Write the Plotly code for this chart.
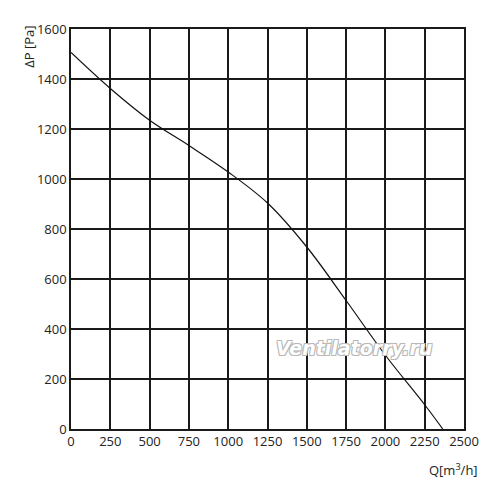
import plotly.graph_objects as go

# Airflow Q [m3/h] and pressure dP [Pa]
flow_q = [0, 250, 500, 750, 1000, 1250, 1500, 1750, 2000, 2250, 2365]
pressure_dp = [1506, 1362, 1235, 1134, 1028, 904, 728, 514, 295, 97, 0]

x_ticks = [0, 250, 500, 750, 1000, 1250, 1500, 1750, 2000, 2250, 2500]
y_ticks = [0, 200, 400, 600, 800, 1000, 1200, 1400, 1600]

fig = go.Figure()
fig.add_trace(go.Scatter(
    x=flow_q, y=pressure_dp, mode="lines",
    line=dict(color="#111111", width=1.2, shape="spline", smoothing=1.0),
    hoverinfo="skip", showlegend=False,
))

axis_font = dict(family="Open Sans, DejaVu Sans, sans-serif", size=13, color="#222222")

fig.update_layout(
    width=500, height=492,
    margin=dict(l=63, r=44, t=14, b=71),
    paper_bgcolor="white", plot_bgcolor="white",
    xaxis=dict(
        range=[0, 2500], tickvals=x_ticks, ticktext=[str(v) for v in x_ticks],
        showgrid=True, gridcolor="#1a1a1a", gridwidth=1.5,
        showline=True, linecolor="#1a1a1a", linewidth=1.5, mirror=True,
        zeroline=False, ticks="", tickfont=axis_font, fixedrange=True,
    ),
    yaxis=dict(
        range=[0, 1600], tickvals=y_ticks, ticktext=[str(v) for v in y_ticks],
        showgrid=True, gridcolor="#1a1a1a", gridwidth=1.5,
        showline=True, linecolor="#1a1a1a", linewidth=1.5, mirror=True,
        zeroline=False, ticks="", tickfont=axis_font, fixedrange=True,
    ),
    annotations=[
        dict(text="ΔP [Pa]", xref="paper", yref="paper", x=-0.109, y=0.956,
             textangle=-90, showarrow=False, font=axis_font,
             xanchor="center", yanchor="middle"),
        dict(text="Q[m<sup>3</sup>/h]", xref="paper", yref="paper", x=1.04, y=-0.102,
             showarrow=False, font=axis_font, xanchor="right", yanchor="middle"),
        dict(text="Ventilatorry.ru", xref="paper", yref="paper", x=0.721, y=0.203,
             showarrow=False, xanchor="center", yanchor="middle",
             font=dict(family="DejaVu Sans, Verdana, sans-serif", size=19,
                       color="white", style="italic", weight="bold",
                       shadow="1px 1px 0 #b8b8b8, -1px -1px 0 #b8b8b8, 1px -1px 0 #b8b8b8, -1px 1px 0 #b8b8b8")),
    ],
)

fig.write_html("out.html")
